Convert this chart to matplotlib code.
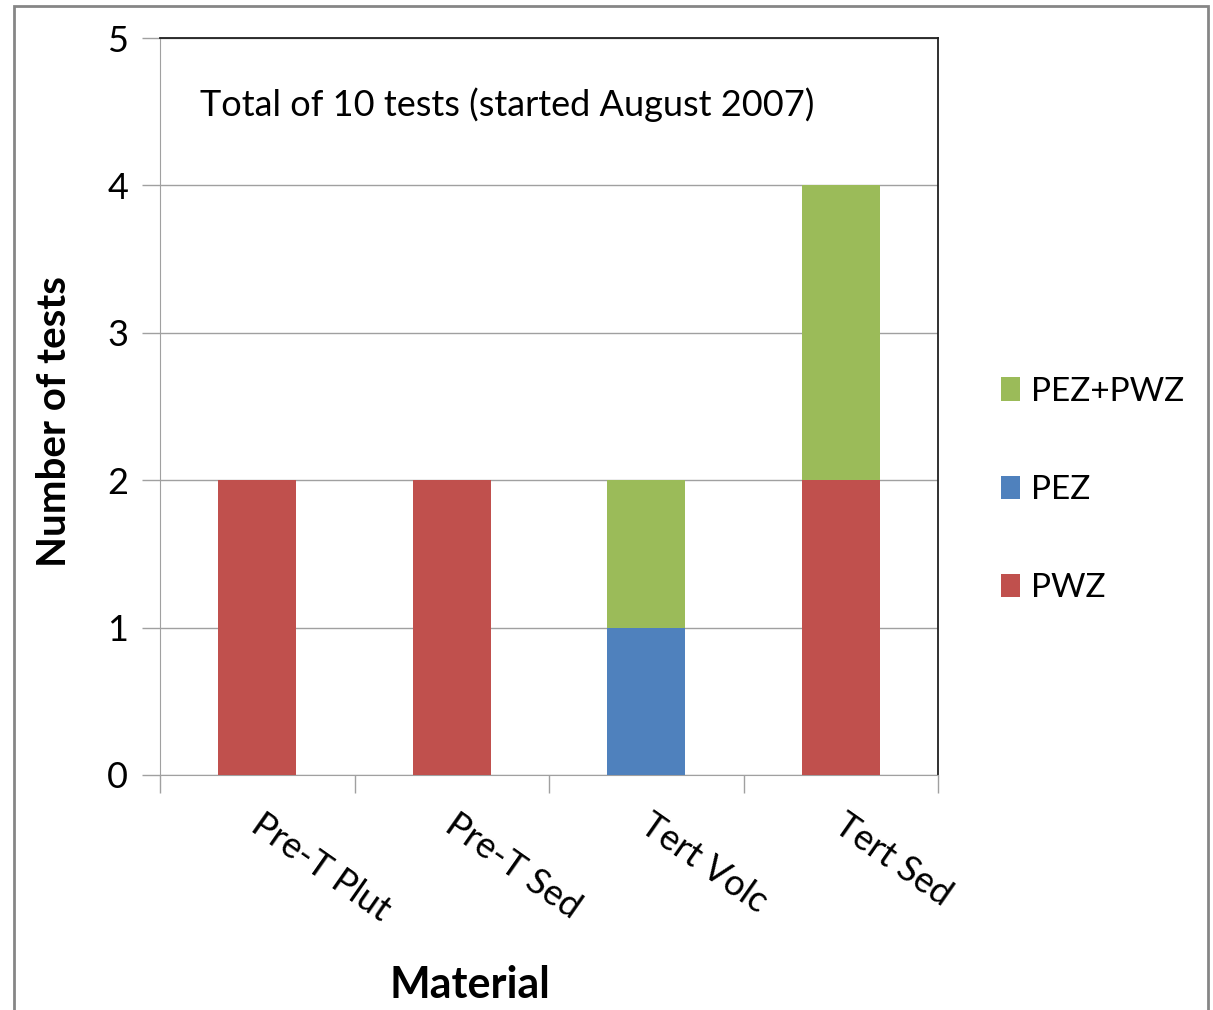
import matplotlib
matplotlib.use("Agg")
import matplotlib.pyplot as plt
from matplotlib.patches import Rectangle, Patch
import numpy as np

plt.rcParams['font.family'] = ['Lato', 'DejaVu Sans']

categories = ["Pre-T Plut", "Pre-T Sed", "Tert Volc", "Tert Sed"]
pwz = [2, 2, 0, 2]
pez = [0, 0, 1, 0]
pez_pwz = [0, 0, 1, 2]
series_names = ["PWZ", "PEZ", "PEZ+PWZ"]
colors = ["#C0504D", "#4F81BD", "#9BBB59"]
yticks = [0, 1, 2, 3, 4, 5]

W, H = 1213, 1010
fig = plt.figure(figsize=(W / 100, H / 100), dpi=100)
fig.patch.set_facecolor("white")
fig.add_artist(Rectangle((14 / W, -0.01), (1208 - 14) / W, 1 - 6 / H + 0.01,
                         transform=fig.transFigure, fill=False,
                         edgecolor="#868686", linewidth=2))

ax = fig.add_axes([160 / W, 1 - 775 / H, (938 - 160) / W, (775 - 38) / H])
x = np.arange(len(categories))
width = 0.4
bottom = np.zeros(len(categories))
handles = []
for vals, name, c in zip([pwz, pez, pez_pwz], series_names, colors):
    ax.bar(x, vals, width, bottom=bottom, color=c, zorder=3, linewidth=0)
    bottom += np.array(vals)
    handles.append(Patch(facecolor=c, edgecolor="none", label=name))

ax.set_xlim(-0.5, len(categories) - 0.5)
ax.set_ylim(0, 5)
ax.set_yticks(yticks)
ax.set_yticklabels([str(v) for v in yticks], fontsize=26)
ax.yaxis.grid(True, color="#A0A0A0", linewidth=1, zorder=0)
ax.tick_params(axis="y", length=13, width=1, color="#A0A0A0", pad=10)
ax.set_xticks(np.arange(-0.5, len(categories), 1.0))
ax.set_xticklabels([])
ax.tick_params(axis="x", length=13, width=1, color="#A0A0A0")
for s in ["left", "bottom"]:
    ax.spines[s].set_color("#A0A0A0")
for s in ["top", "right"]:
    ax.spines[s].set_color("#202020")
    ax.spines[s].set_linewidth(1.3)

for i, cat in enumerate(categories):
    ax.annotate(cat, xy=(i, 0), xycoords="data", xytext=(5, -24),
                textcoords="offset points", rotation=-35,
                rotation_mode="anchor", ha="left", va="top", fontsize=26)

ax.text(0.052, 0.91, "Total of 10 tests (started August 2007)",
        transform=ax.transAxes, fontsize=26, ha="left", va="center")

fig.text(55 / W, 1 - 422 / H, "Number of tests", rotation=90, fontsize=29,
         fontweight="bold", ha="center", va="center")
fig.text(470 / W, 1 - 985 / H, "Material", fontsize=31,
         fontweight="bold", ha="center", va="center")

leg = fig.legend(handles=handles[::-1], loc="center left",
                 bbox_to_anchor=(988 / W, 1 - 490 / H), frameon=False,
                 fontsize=24, handlelength=0.55, handleheight=0.7,
                 handletextpad=0.35, labelspacing=2.05, borderaxespad=0)

fig.savefig("out.png", dpi=100, facecolor="white")
